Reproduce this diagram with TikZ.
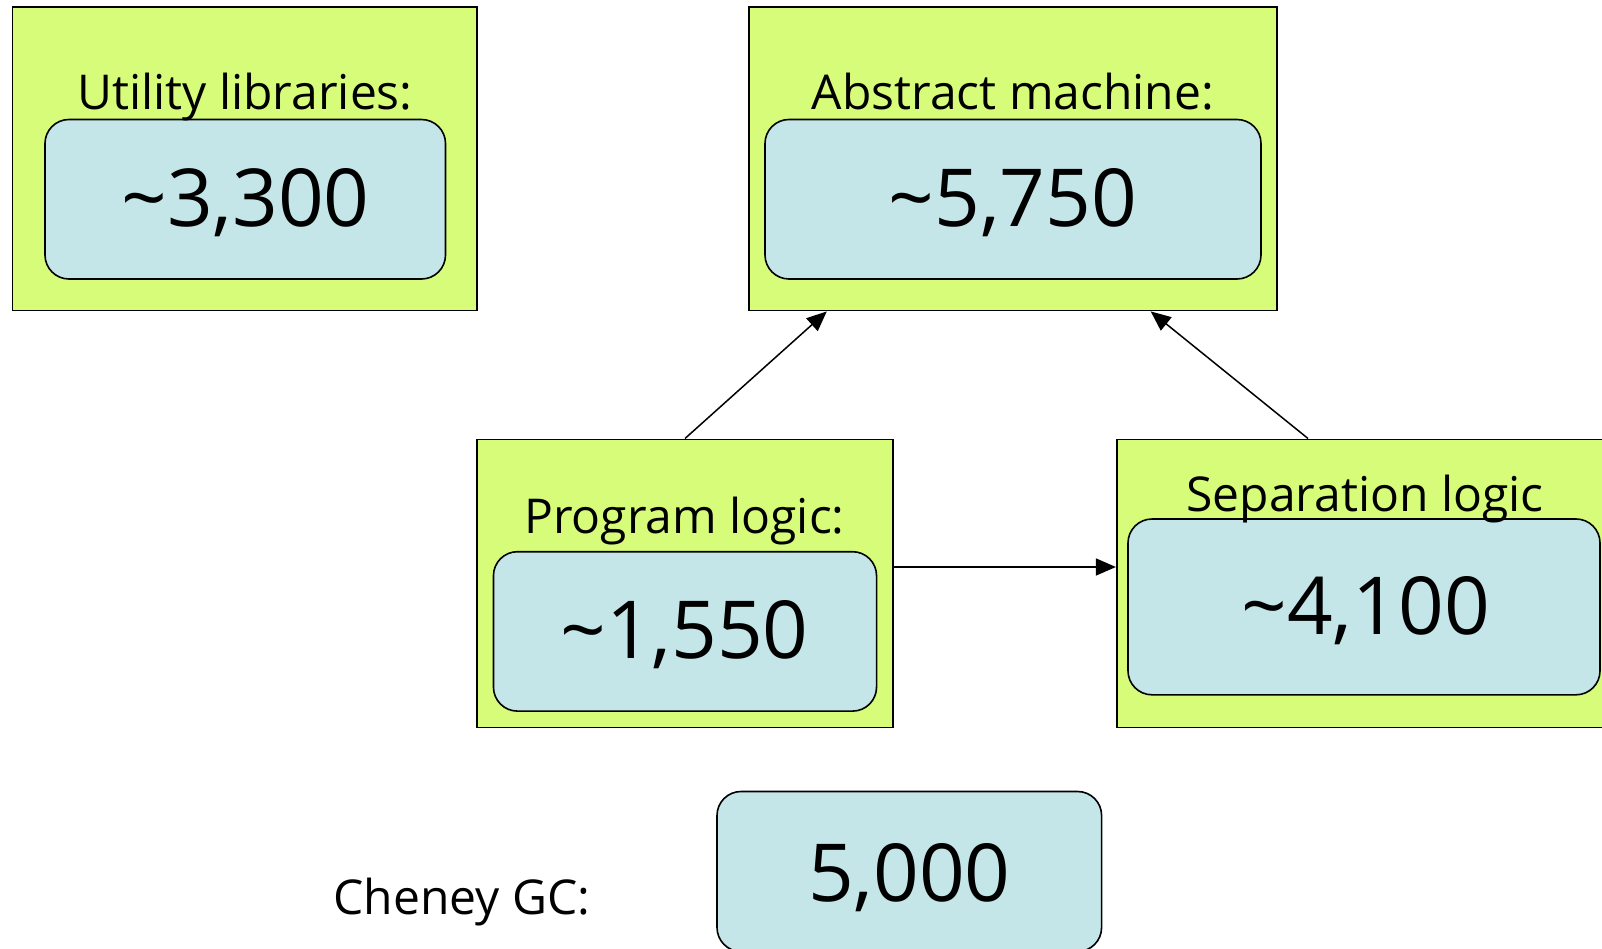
\documentclass[tikz,border=0pt]{standalone}
\usepackage{fontspec}
\setmainfont{Open Sans}
\usetikzlibrary{arrows.meta,calc}
\definecolor{boxgreen}{RGB}{214,252,122}
\definecolor{countblue}{RGB}{196,230,232}
\tikzset{
  module/.style={rectangle, draw=black, fill=boxgreen, line width=1.6pt, inner sep=0pt},
  count/.style={rectangle, draw=black, fill=countblue, line width=1.6pt, rounded corners=24pt, inner sep=0pt},
  title/.style={anchor=base, inner sep=0pt, font=\fontsize{48}{58}\selectfont},
  number/.style={anchor=base, inner sep=0pt, font=\fontsize{80}{96}\selectfont},
  dep/.style={line width=1.5pt, -{Triangle[length=20pt,width=17pt]}}
}
\begin{document}
\begin{tikzpicture}[x=1pt,y=-1pt]
\useasboundingbox (0,0) rectangle (1602,949);
\clip (0,0) rectangle (1602,949);
\fill[white] (0,0) rectangle (1602,949);

% Utility libraries
\node[module, minimum width=464.8pt, minimum height=303.4pt] (U) at (244.7,158.9) {};
\node[count, minimum width=400.5pt, minimum height=159.5pt] (Uc) at (245.25,199.25) {};
\node[title] (Ut) at (245,110) {Utility libraries:};
\node[number] (Un) at (245.5,227) {\textasciitilde 3,300};

% Abstract machine
\node[module, minimum width=528.2pt, minimum height=303.4pt] (A) at (1013,158.9) {};
\node[count, minimum width=496pt, minimum height=159.5pt] (Ac) at (1013,199.25) {};
\node[title] (At) at (1013,110) {Abstract machine:};
\node[number] (An) at (1013,227) {\textasciitilde 5,750};

% Program logic
\node[module, minimum width=415.9pt, minimum height=288.2pt] (P) at (685,583.4) {};
\node[count, minimum width=383.1pt, minimum height=159.4pt] (Pc) at (685,631.4) {};
\node[title] (Pt) at (684.5,533) {Program logic:};
\node[number] (Pn) at (684.5,658) {\textasciitilde 1,550};

% Separation logic (runs past the right edge)
\node[module, minimum width=533.3pt, minimum height=288.2pt] (S) at (1383.35,583.4) {};
\node[count, minimum width=472pt, minimum height=175.8pt] (Sc) at (1364,606.9) {};
\node[title] (St) at (1365,511) {Separation logic};
\node[number] (Sn) at (1365.5,634) {\textasciitilde 4,100};

% Cheney GC
\node[title] (Gt) at (462,914) {Cheney GC:};
\node[count, minimum width=384.6pt, minimum height=160pt] (G) at (909.3,871.5) {};
\node[number] (Gn) at (909.3,901) {5,000};

% Dependencies
\coordinate (pa) at ($(A.south west)+(78.7,0)$);
\coordinate (sa) at ($(A.south west)+(402.6,0)$);
\coordinate (ss) at ($(S.north west)+(192.1,0)$);
\draw[dep] (P.north) -- (pa);
\draw[dep] (ss) -- (sa);
\draw[dep] ($(P.east)+(0,-16.4)$) -- ($(S.west)+(0,-16.4)$);
\end{tikzpicture}
\end{document}
